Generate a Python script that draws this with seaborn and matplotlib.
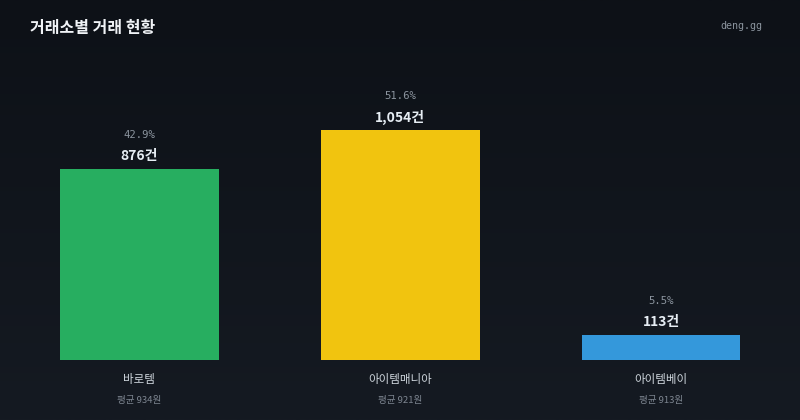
import numpy as np
import pandas as pd
import matplotlib
matplotlib.use("Agg")
import matplotlib.pyplot as plt
import seaborn as sns

exchanges = ["바로템", "아이템매니아", "아이템베이"]
counts = [876, 1054, 113]
shares = [42.9, 51.6, 5.5]
avg_prices = [934, 921, 913]
colors = ["#27ae60", "#f1c40f", "#3498db"]

df = pd.DataFrame({"exchange": exchanges, "count": counts})

sns.set_theme(style="dark")
plt.rcParams["font.family"] = ["Noto Sans CJK KR", "DejaVu Sans"]

fig = plt.figure(figsize=(8, 4.2), dpi=100)

# background gradient
bg = fig.add_axes([0, 0, 1, 1])
grad = np.linspace(0, 1, 256).reshape(-1, 1)
cmap = matplotlib.colors.LinearSegmentedColormap.from_list("bg", ["#0d1117", "#151a22"])
bg.imshow(grad, aspect="auto", cmap=cmap, extent=[0, 1, 0, 1])
bg.axis("off")

ax = fig.add_axes([0, 60 / 420, 1, 300 / 420])
ax.patch.set_alpha(0)
sns.barplot(data=df, x="exchange", y="count", hue="exchange", palette=colors,
            width=0.609, saturation=1, legend=False, linewidth=0, ax=ax)
ax.set_xlim(-0.534, 2.533)
ax.set_ylim(0, 1376)
ax.axis("off")

for i, (c, s, a) in enumerate(zip(counts, shares, avg_prices)):
    ax.annotate(f"{c:,}건", (i, c), xytext=(0, 13), textcoords="offset pixels",
                ha="center", va="center", fontsize=10, fontweight="bold", color="#e6edf3")
    ax.annotate(f"{s}%", (i, c), xytext=(0, 34), textcoords="offset pixels",
                ha="center", va="center", fontsize=7.7, color="#8b949e",
                family="DejaVu Sans Mono")
    ax.annotate(exchanges[i], (i, 0), xytext=(0, -20), textcoords="offset pixels",
                ha="center", va="center", fontsize=8.3, fontweight="medium", color="#d0d7de")
    ax.annotate(f"평균 {a}원", (i, 0), xytext=(0, -40), textcoords="offset pixels",
                ha="center", va="center", fontsize=6.9, color="#7d8590")

fig.text(30 / 800, 1 - 28 / 420, "거래소별 거래 현황", ha="left", va="center",
         fontsize=11.5, fontweight="bold", color="#f0f3f6")
fig.text(762 / 800, 1 - 26 / 420, "deng.gg", ha="right", va="center",
         fontsize=7.2, color="#8b949e", family="DejaVu Sans Mono")

fig.savefig("out.png", dpi=100)
